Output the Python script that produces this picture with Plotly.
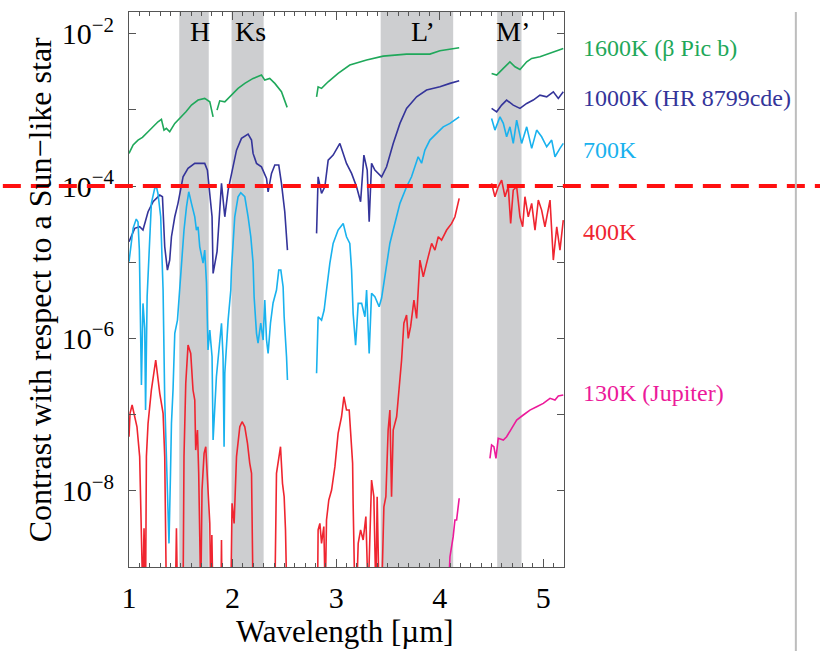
import numpy as np
import plotly.graph_objects as go

# ---------------------------------------------------------------------------
# Model planet/star contrast spectra (log10 of contrast), split into segments
# where the spectra have gaps.
# ---------------------------------------------------------------------------
wl_1600 = [
    [1.00, 1.04, 1.087, 1.13, 1.184, 1.23, 1.28, 1.313, 1.338, 1.361, 1.393, 1.442,
     1.506, 1.55, 1.603, 1.667, 1.731, 1.78, 1.812],
    [1.85, 1.876, 1.925, 1.989, 2.053, 2.118, 2.198, 2.279, 2.311, 2.359, 2.408,
     2.472, 2.527],
    [2.811, 2.826, 2.859, 2.923, 3.019, 3.132, 3.294, 3.454, 3.68, 3.905, 4.002, 4.188],
    [4.501, 4.55, 4.614, 4.678, 4.727, 4.775, 4.84, 4.888, 4.968, 5.065, 5.193],
]
lc_1600 = [
    [-3.571, -3.46, -3.396, -3.36, -3.287, -3.22, -3.156, -3.125, -3.265, -3.243,
     -3.287, -3.177, -3.091, -3.025, -2.937, -2.871, -2.849, -2.894, -3.091],
    [-3.003, -2.881, -2.894, -2.806, -2.718, -2.652, -2.587, -2.543, -2.609, -2.587,
     -2.652, -2.762, -2.967],
    [-2.828, -2.697, -2.718, -2.631, -2.521, -2.412, -2.346, -2.294, -2.268, -2.268,
     -2.224, -2.185],
    [-2.521, -2.543, -2.455, -2.369, -2.434, -2.469, -2.369, -2.324, -2.303, -2.259,
     -2.193],
]

wl_1000 = [
    [1.00, 1.055, 1.103, 1.135, 1.184, 1.232, 1.297, 1.323, 1.345, 1.371, 1.393, 1.41,
     1.442, 1.473, 1.522, 1.57, 1.635, 1.731, 1.757, 1.78, 1.802, 1.812, 1.85, 1.893,
     1.925, 1.957, 1.989, 2.038, 2.086, 2.15, 2.183, 2.198, 2.231, 2.279, 2.328, 2.343,
     2.376, 2.408, 2.446, 2.472, 2.504, 2.53],
    [2.811, 2.826, 2.859, 2.891, 2.923, 2.971, 3.036, 3.10, 3.149, 3.197, 3.236, 3.268,
     3.30, 3.319, 3.342, 3.374, 3.439, 3.487, 3.551, 3.616, 3.68, 3.777, 3.873, 4.002,
     4.099, 4.188],
    [4.501, 4.55, 4.598, 4.646, 4.71, 4.775, 4.84, 4.903, 4.968, 5.033, 5.097, 5.145,
     5.193],
]
lc_1000 = [
    [-4.731, -4.555, -4.534, -4.577, -4.337, -4.206, -4.118, -4.14, -4.797, -5.102,
     -4.971, -4.665, -4.403, -4.227, -3.878, -3.768, -3.702, -3.702, -3.79, -4.14,
     -4.403, -5.146, -4.86, -3.965, -4.403, -4.052, -3.833, -3.528, -3.374, -3.318,
     -3.396, -3.571, -3.702, -3.747, -3.899, -4.075, -3.833, -3.724, -3.724, -3.965,
     -4.337, -4.84],
    [-4.621, -3.878, -4.096, -4.009, -3.659, -3.593, -3.44, -3.702, -3.833, -4.009,
     -4.206, -3.593, -3.79, -4.468, -3.702, -3.79, -3.878, -3.747, -3.44, -3.177,
     -2.98, -2.828, -2.74, -2.697, -2.652, -2.618],
    [-2.98, -3.025, -2.937, -2.871, -2.937, -2.98, -2.915, -2.871, -2.806, -2.828,
     -2.762, -2.849, -2.762],
]

wl_700 = [
    [1.00, 1.04, 1.07, 1.087, 1.10, 1.11, 1.12, 1.135, 1.152, 1.16, 1.175, 1.216,
     1.248, 1.265, 1.28, 1.306, 1.323, 1.329, 1.345, 1.361, 1.371, 1.386, 1.40, 1.41,
     1.425, 1.442, 1.468, 1.49, 1.506, 1.531, 1.555, 1.577, 1.603, 1.635, 1.651, 1.667,
     1.683, 1.715, 1.731, 1.748, 1.763, 1.78, 1.802, 1.812, 1.844, 1.876, 1.893, 1.908,
     1.918, 1.925, 1.957, 1.983, 1.989, 2.021, 2.053, 2.079, 2.118, 2.15, 2.176, 2.198,
     2.208, 2.231, 2.246, 2.272, 2.295, 2.311, 2.328, 2.343, 2.366, 2.391, 2.424, 2.446,
     2.466, 2.488, 2.498, 2.521, 2.53],
    [2.811, 2.826, 2.859, 2.884, 2.907, 2.939, 2.971, 3.019, 3.068, 3.10, 3.132, 3.149,
     3.164, 3.188, 3.213, 3.246, 3.278, 3.294, 3.319, 3.342, 3.374, 3.415, 3.439, 3.487,
     3.519, 3.551, 3.616, 3.68, 3.728, 3.792, 3.825, 3.857, 3.905, 3.97, 4.034, 4.099,
     4.188],
    [4.501, 4.533, 4.582, 4.614, 4.646, 4.678, 4.71, 4.743, 4.791, 4.84, 4.888, 4.936,
     4.984, 5.033, 5.081, 5.113, 5.161, 5.193],
]
lc_700 = [
    [-4.993, -4.551, -4.433, -4.47, -4.84, -5.50, -6.61, -5.54, -5.87, -6.94, -5.45,
     -4.227, -4.03, -4.01, -4.10, -4.403, -5.01, -5.365, -6.808, -7.465, -7.814,
     -8.69, -7.814, -7.114, -6.677, -5.933, -5.759, -5.365, -5.01, -4.577, -4.272,
     -4.075, -4.227, -4.403, -4.577, -4.534, -4.797, -5.01, -4.84, -5.273, -6.152,
     -5.89, -6.24, -7.333, -6.503, -6.021, -5.80, -6.24, -7.421, -6.457, -5.759,
     -5.365, -5.102, -4.403, -4.14, -4.088, -4.14, -4.403, -4.665, -5.01, -5.453,
     -5.933, -6.06, -5.80, -6.021, -5.496, -6.021, -6.196, -5.80, -5.535, -5.365,
     -5.102, -5.102, -5.322, -5.715, -6.24, -6.546],
    [-6.457, -5.715, -5.759, -5.627, -5.365, -5.014, -4.752, -4.577, -4.49, -4.665,
     -4.752, -5.102, -5.671, -6.087, -5.539, -5.539, -5.715, -5.365, -6.196, -5.408,
     -5.453, -5.584, -5.47, -5.014, -4.75, -4.577, -4.227, -4.009, -3.878, -3.615,
     -3.70, -3.528, -3.396, -3.308, -3.222, -3.177, -3.091],
    [-3.112, -3.265, -3.091, -3.177, -3.353, -3.222, -3.44, -3.134, -3.44, -3.222,
     -3.505, -3.265, -3.353, -3.484, -3.396, -3.615, -3.505, -3.44],
]

wl_400 = [
    [1.00, 1.01, 1.03, 1.055, 1.077, 1.103, 1.12, 1.133, 1.145, 1.152, 1.16, 1.168,
     1.184, 1.216, 1.258, 1.297, 1.329, 1.345, 1.361, 1.448, 1.458, 1.468, 1.522,
     1.531, 1.548, 1.57, 1.596, 1.618, 1.635, 1.644, 1.661, 1.673, 1.683, 1.693, 1.705,
     1.725, 1.741, 1.757, 1.78, 1.789, 1.80, 1.81, 1.888, 1.893, 1.898, 1.983, 1.995,
     2.015, 2.038, 2.07, 2.092, 2.118, 2.144, 2.166, 2.183, 2.198, 2.408, 2.424, 2.446,
     2.463, 2.482, 2.498, 2.511, 2.524],
    [2.82, 2.826, 2.843, 2.859, 2.881, 2.895, 2.907, 2.929, 2.956, 2.988, 3.019, 3.052,
     3.075, 3.10, 3.126, 3.142, 3.159, 3.164, 3.181, 3.197, 3.213, 3.236, 3.261, 3.287,
     3.309, 3.342, 3.364, 3.384, 3.396, 3.415, 3.439, 3.461, 3.48, 3.502, 3.519, 3.535,
     3.551, 3.584, 3.616, 3.632, 3.654, 3.68, 3.696, 3.719, 3.751, 3.777, 3.809, 3.841,
     3.873, 3.922, 3.954, 3.986, 4.018, 4.067, 4.115, 4.147, 4.188],
    [4.501, 4.533, 4.565, 4.598, 4.63, 4.662, 4.685, 4.71, 4.743, 4.775, 4.801, 4.823,
     4.855, 4.888, 4.92, 4.952, 4.984, 5.016, 5.065, 5.097, 5.13, 5.161, 5.193],
]
lc_400 = [
    [-7.29, -6.983, -6.874, -7.028, -7.159, -7.551, -8.427, -9.4, -8.49, -9.4, -9.4,
     -7.551, -7.114, -6.677, -6.283, -6.72, -6.983, -7.551, -9.4, -9.4, -8.492, -9.4,
     -9.4, -7.551, -6.589, -6.087, -6.196, -6.677, -6.808, -7.465, -7.202, -7.77,
     -8.427, -9.4, -7.99, -7.508, -7.421, -7.814, -8.427, -9.4, -8.58, -9.4, -9.4,
     -8.646, -9.4, -9.4, -8.164, -8.427, -7.551, -7.159, -7.093, -7.159, -7.377,
     -7.639, -7.77, -9.4, -9.4, -7.77, -7.551, -7.421, -7.902, -8.077, -8.514, -9.4],
    [-9.4, -8.514, -8.427, -8.69, -8.47, -9.4, -8.383, -8.121, -7.99, -7.683, -7.245,
     -7.028, -6.765, -6.94, -6.94, -7.29, -7.639, -8.164, -9.4, -9.4, -8.69, -8.514,
     -8.646, -8.339, -9.4, -7.858, -8.077, -9.4, -8.077, -9.4, -9.4, -8.209, -8.077,
     -7.202, -6.94, -8.077, -7.202, -7.028, -6.503, -6.283, -5.80, -5.693, -5.999,
     -5.846, -5.496, -5.736, -4.971, -5.19, -5.014, -4.752, -4.84, -4.665, -4.71,
     -4.577, -4.49, -4.403, -4.161],
    [-3.965, -4.14, -4.009, -3.921, -4.14, -4.009, -4.49, -4.052, -4.009, -4.403,
     -4.534, -4.14, -4.403, -4.227, -4.577, -4.184, -4.315, -4.534, -4.184, -4.971,
     -4.534, -4.84, -4.446],
]

wl_130 = [
    [4.082, 4.099, 4.13, 4.147, 4.163, 4.188],
    [4.485, 4.501, 4.523, 4.543, 4.565, 4.614, 4.646, 4.695, 4.743, 4.807, 4.871,
     4.936, 5.00, 5.065, 5.113, 5.145, 5.193],
]
lc_130 = [
    [-9.4, -8.865, -8.602, -8.383, -8.383, -8.098],
    [-7.573, -7.399, -7.421, -7.573, -7.311, -7.333, -7.29, -7.18, -7.071, -7.005,
     -6.94, -6.896, -6.852, -6.786, -6.808, -6.756, -6.743],
]

series_names = ["1600K (β Pic b)", "1000K (HR 8799cde)", "700K", "400K", "130K (Jupiter)"]
series_wl = [wl_1600, wl_1000, wl_700, wl_400, wl_130]
series_lc = [lc_1600, lc_1000, lc_700, lc_400, lc_130]
series_colors = ["#1fa85a", "#34349a", "#19b2ee", "#ef2530", "#ec1a9a"]
label_logc = [-2.19, -2.845, -3.528, -4.604, -6.717]

# Photometric bands (µm)
band_names = ["H", "Ks", "L’", "M’"]
band_lo = [1.485, 1.99, 3.43, 4.555]
band_hi = [1.77, 2.30, 4.13, 4.79]
band_label_x = [1.69, 2.175, 3.84, 4.71]

contrast_limit = 1e-4

XMIN, XMAX = 1.0, 5.2
YMIN, YMAX = -9.0, -1.715
SERIF = "Liberation Serif, Times New Roman, serif"
AX = "#555555"

fig = go.Figure()

for name, wls, lcs, col in zip(series_names, series_wl, series_lc, series_colors):
    xs, ys = [], []
    for w, c in zip(wls, lcs):
        xs += list(w) + [None]
        ys += [10.0 ** v for v in c] + [None]
    fig.add_trace(go.Scatter(x=xs, y=ys, mode="lines", name=name,
                             line=dict(color=col, width=1.6),
                             connectgaps=False, showlegend=False, hoverinfo="skip"))

shapes = []
for lo, hi in zip(band_lo, band_hi):
    shapes.append(dict(type="rect", xref="x", yref="paper", x0=lo, x1=hi, y0=0, y1=1,
                       fillcolor="#cdced0", line=dict(width=0), layer="below"))

# horizontal contrast threshold, running across the whole page
y_lim = (np.log10(contrast_limit) - YMIN) / (YMAX - YMIN)
shapes.append(dict(type="line", xref="paper", yref="paper", x0=-0.29, x1=1.59,
                   y0=y_lim, y1=y_lim, line=dict(color="#ff1010", width=4, dash="18px,10px"),
                   layer="above"))
# thin separator on the right
shapes.append(dict(type="line", xref="paper", yref="paper", x0=1.533, x1=1.533,
                   y0=-0.16, y1=1.0, line=dict(color="#bdbdbd", width=2)))

annotations = []
for nm, xc in zip(band_names, band_label_x):
    annotations.append(dict(x=xc, y=0.965, xref="x", yref="paper", text=nm,
                            showarrow=False, font=dict(family=SERIF, size=28, color="black"),
                            xanchor="center", yanchor="middle"))
for nm, yl, col in zip(series_names, label_logc, series_colors):
    annotations.append(dict(x=1.039, y=yl, xref="paper", yref="y", text=nm,
                            showarrow=False, font=dict(family=SERIF, size=24, color=col),
                            xanchor="left", yanchor="middle"))
annotations.append(dict(x=0.497, y=-0.116, xref="paper", yref="paper",
                        text="Wavelength [µm]", showarrow=False,
                        font=dict(family=SERIF, size=31, color="black"),
                        xanchor="center", yanchor="middle"))
annotations.append(dict(x=-0.205, y=0.5, xref="paper", yref="paper",
                        text="Contrast with respect to a Sun−like star", showarrow=False,
                        textangle=-90, font=dict(family=SERIF, size=32, color="black"),
                        xanchor="center", yanchor="middle"))

ytick_vals = [1e-8, 1e-6, 1e-4, 1e-2]
ytick_text = ["10<sup>−8</sup>", "10<sup>−6</sup>", "10<sup>−4</sup>", "10<sup>−2</sup>"]
ytick_minor = [1e-7, 1e-5, 1e-3]

fig.update_layout(
    width=820, height=651,
    margin=dict(l=129, r=256, t=12, b=84),
    paper_bgcolor="white", plot_bgcolor="white",
    shapes=shapes, annotations=annotations,
    xaxis=dict(range=[XMIN, XMAX], showgrid=False, zeroline=False,
               showline=True, linecolor=AX, linewidth=1, mirror="ticks",
               ticks="inside", ticklen=8, tickcolor=AX, tickwidth=1,
               tickvals=[1, 2, 3, 4, 5], ticklabelstandoff=4,
               tickfont=dict(family=SERIF, size=30, color="black"),
               minor=dict(dtick=0.1, tick0=1, ticks="inside", ticklen=4,
                          tickcolor=AX, showgrid=False)),
    yaxis=dict(type="log", range=[YMIN, YMAX], showgrid=False, zeroline=False,
               showline=True, linecolor=AX, linewidth=1, mirror="ticks",
               ticks="inside", ticklen=7, tickcolor=AX, tickwidth=1,
               tickvals=ytick_vals, ticktext=ytick_text, ticklabelstandoff=8,
               tickfont=dict(family=SERIF, size=30, color="black"),
               minor=dict(tickvals=ytick_minor, ticks="inside", ticklen=7,
                          tickcolor=AX, showgrid=False)),
)

fig.write_html("out.html")
